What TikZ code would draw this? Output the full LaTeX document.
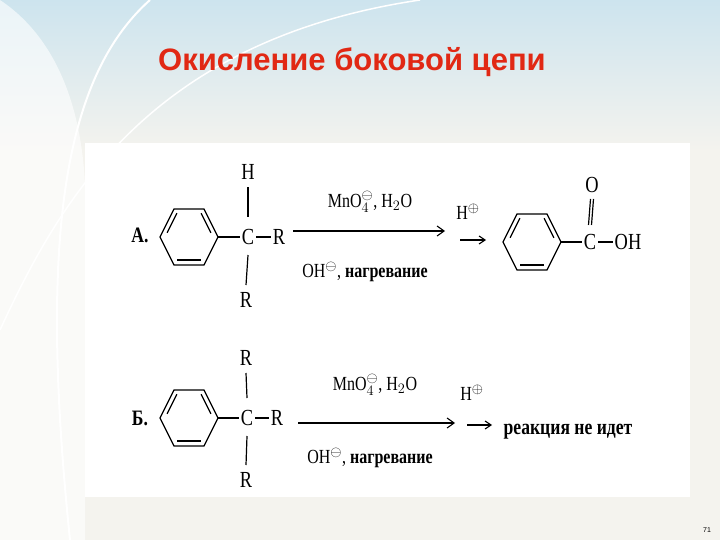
\documentclass[tikz,border=0pt]{standalone}
\usepackage{fontspec}
\setmainfont{Liberation Serif}
\newfontfamily\titlefont{Liberation Sans}
\newfontfamily\condfont{Liberation Serif}[FakeStretch=0.8]
\usetikzlibrary{arrows.meta,calc}
\definecolor{bgc}{RGB}{244,243,238}
\definecolor{skyc}{RGB}{205,228,238}
\definecolor{titlec}{RGB}{225,40,20}
\tikzset{
  chem/.style={font=\condfont\fontsize{23}{24}\selectfont, inner sep=0pt},
  cond/.style={font=\condfont\fontsize{20}{21}\selectfont, inner sep=0pt},
  bond/.style={line width=1.2pt},
  rarrow/.style={line width=2pt,-{Straight Barb[length=7pt,width=10pt,line width=1.1pt]}},
  sarrow/.style={line width=1.1pt,-{Straight Barb[length=6pt,width=8pt]}},
}
\newcommand{\ring}[3]{% center x, y, name
  \coordinate (#3c) at (#1,#2);
  \coordinate (#3l) at (#1-29,#2);
  \coordinate (#3tl) at (#1-15,#2-28);
  \coordinate (#3tr) at (#1+15,#2-28);
  \coordinate (#3r) at (#1+29,#2);
  \coordinate (#3br) at (#1+15,#2+28);
  \coordinate (#3bl) at (#1-15,#2+28);
  \draw[bond] (#3l)--(#3tl)--(#3tr)--(#3r)--(#3br)--(#3bl)--cycle;
  \draw[bond] ($(#3l)!0.15!(#3tl)+(5,0)$)--($(#3l)!0.85!(#3tl)+(5,0)$);
  \draw[bond] ($(#3r)!0.15!(#3tr)+(-5,0)$)--($(#3r)!0.85!(#3tr)+(-5,0)$);
  \draw[bond] ($(#3bl)+(3,-5)$)--($(#3br)+(-3,-5)$);
}
\begin{document}
\begin{tikzpicture}[x=1pt,y=-1pt]
\useasboundingbox (0,0) rectangle (720,540);
\fill[bgc] (0,0) rectangle (720,540);
\shade[top color=skyc, bottom color=bgc] (0,0) rectangle (720,150);
\fill[white,opacity=0.6] (0,0) .. controls (60,40) and (90,120) .. (85,230) -- (85,540) -- (0,540) -- cycle;
\draw[white,line width=2pt] (150,0) .. controls (60,80) and (40,250) .. (70,540);
\draw[white,line width=1.5pt] (420,0) .. controls (150,40) and (60,200) .. (0,330);
\fill[white] (85,143) rectangle (690,497);
\node[font=\titlefont\bfseries\fontsize{31}{33}\selectfont, text=titlec] (title) at (352,62) {Окисление боковой цепи};
\node[font=\titlefont\fontsize{7}{8}\selectfont] (pg) at (707,530) {71};

% Reaction A
\node[chem,font=\condfont\bfseries\fontsize{22}{24}\selectfont] (la) at (140,235) {А.};
\ring{189}{237}{ra}
\node[chem] (ca) at (248,237) {C};
\node[chem] (ha) at (248,172) {H};
\node[chem] (rba) at (246,300) {R};
\node[chem] (rra) at (279,237) {R};
\draw[bond] (rar) -- ($(ca.west)+(-2,0)$);
\draw[bond] ($(ca.east)+(2,0)$) -- ($(rra.west)+(-2,0)$);
\draw[bond] ($(ca)+(0,-20)$) -- ($(ha)+(0,15)$);
\draw[bond] ($(ca)+(0,18)$) -- ($(rba)+(0,-15)$);
\coordinate (a1s) at (293,231); \coordinate (a1e) at (445,231);
\draw[rarrow] (a1s) -- (a1e);
\node[cond] (ta) at (370,202) {MnO$_4^{\ominus}$, H$_2$O};
\node[cond] (ba) at (365,272) {OH$^{\ominus}$, \textbf{нагревание}};
\node[cond] (hpa) at (468,212) {H$^{\oplus}$};
\coordinate (a2s) at (460,240); \coordinate (a2e) at (486,240);
\draw[sarrow] (a2s) -- (a2e);
\ring{532}{242}{pa}
\node[chem] (cp) at (590,242) {C};
\node[chem] (op) at (592,185) {O};
\node[chem] (ohp) at (628,242) {OH};
\draw[bond] (par) -- ($(cp.west)+(-2,0)$);
\draw[bond] ($(cp.east)+(2,0)$) -- ($(ohp.west)+(-2,0)$);
\draw[bond] ($(cp)+(-1.5,-17)$) -- ($(op)+(-1.5,14)$);
\draw[bond] ($(cp)+(1.5,-17)$) -- ($(op)+(1.5,14)$);

% Reaction B
\node[chem,font=\condfont\bfseries\fontsize{22}{24}\selectfont] (lb) at (140,418) {Б.};
\ring{189}{418}{rb}
\node[chem] (cb) at (247,418) {C};
\node[chem] (rtb) at (246,358) {R};
\node[chem] (rbb) at (246,480) {R};
\node[chem] (rrb) at (277,418) {R};
\draw[bond] (rbr) -- ($(cb.west)+(-2,0)$);
\draw[bond] ($(cb.east)+(2,0)$) -- ($(rrb.west)+(-2,0)$);
\draw[bond] ($(cb)+(0,-20)$) -- ($(rtb)+(0,15)$);
\draw[bond] ($(cb)+(0,18)$) -- ($(rbb)+(0,-15)$);
\coordinate (b1s) at (298,423); \coordinate (b1e) at (455,423);
\draw[rarrow] (b1s) -- (b1e);
\node[cond] (tb) at (375,385) {MnO$_4^{\ominus}$, H$_2$O};
\node[cond] (bb) at (370,458) {OH$^{\ominus}$, \textbf{нагревание}};
\node[cond] (hpb) at (472,393) {H$^{\oplus}$};
\coordinate (b2s) at (467,425); \coordinate (b2e) at (492,425);
\draw[sarrow] (b2s) -- (b2e);
\node[chem,font=\condfont\bfseries\fontsize{22}{24}\selectfont] (nr) at (568,432) {реакция не идет};
\end{tikzpicture}
\end{document}
